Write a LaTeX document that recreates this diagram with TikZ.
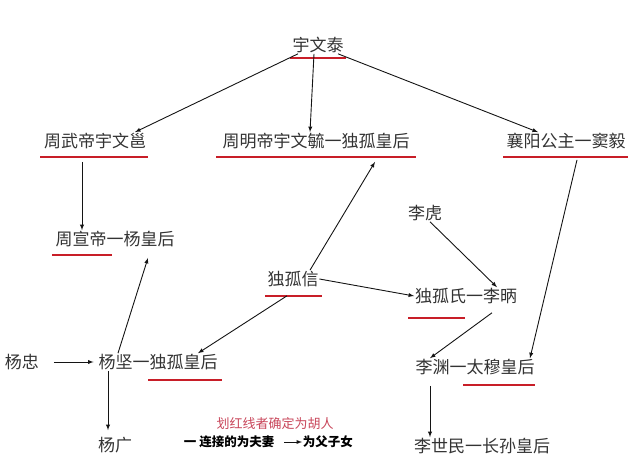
\documentclass[tikz,border=0pt]{standalone}
\usepackage{fontspec}
\setmainfont{Noto Sans CJK SC}
\usepackage{color}
\usetikzlibrary{arrows}

\begin{document}
\begin{tikzpicture}[x=1pt,y=1pt,yscale=-1,xscale=1,
  person/.style={inner sep=0.75pt,font=\fontsize{17}{19}\selectfont,text=black!80},
  link/.style={-latex,line width=0.9pt,color={rgb,255:red,20;green,20;blue,20}},
  redline/.style={line width=2.2pt,color={rgb,255:red,200;green,30;blue,40}}]
\useasboundingbox (0,0) rectangle (640,455);
\node[person] (yuwentai) at (318,45) {宇文泰};
\node[person] (wudi) at (95,141) {周武帝宇文邕};
\node[person] (mingdi) at (316,141) {周明帝宇文毓一独孤皇后};
\node[person] (xiangyang) at (566,141) {襄阳公主一窦毅};
\node[person] (xuandi) at (115,239) {周宣帝一杨皇后};
\node[person] (lihu) at (425,213) {李虎};
\node[person] (duguxin) at (293,279) {独孤信};
\node[person] (duguli) at (466,296) {独孤氏一李昞};
\node[person] (yangzhong) at (22,362) {杨忠};
\node[person] (yangjian) at (158,362) {杨坚一独孤皇后};
\node[person] (liyuan) at (475,367) {李渊一太穆皇后};
\node[person] (yangguang) at (115,445) {杨广};
\node[person] (lishimin) at (482,446) {李世民一长孙皇后};
% legend
\node[inner sep=0.75pt,font=\fontsize{13}{15}\selectfont,text={rgb,255:red,200;green,70;blue,90}] (note) at (275,424) {划红线者确定为胡人};
\node[inner sep=0.75pt,font=\fontsize{12.5}{14}\selectfont\bfseries,anchor=west] (couple) at (183,442) {一 连接的为夫妻};
\node[inner sep=0.75pt,font=\fontsize{12.5}{14}\selectfont\bfseries,anchor=west] (child) at (302,442) {为父子女};
\coordinate (legtail) at (284,442);
\draw[link] (legtail) -- (child.west);

% underlines
\draw[redline] (290,58) -- (346,58);
\draw[redline] (40,157) -- (148,157);
\draw[redline] (216,157) -- (416,157);
\draw[redline] (503,157) -- (628,157);
\draw[redline] (52,255) -- (112,255);
\draw[redline] (265,296) -- (322,296);
\draw[redline] (408,318) -- (465,318);
\draw[redline] (148,380) -- (222,380);
\draw[redline] (463,385) -- (535,385);

% arrows
\draw[link] ([xshift=-20pt]yuwentai.south) -- ([xshift=40pt]wudi.north);
\draw[link] ([xshift=-4pt]yuwentai.south) -- ([xshift=-6pt]mingdi.north);
\draw[link] ([xshift=20pt]yuwentai.south) -- ([xshift=-28pt]xiangyang.north);
\draw[link] ([xshift=-13pt,yshift=12pt]wudi.south) -- ([xshift=-33pt]xuandi.north);
\draw[link] ([xshift=-40pt]yangjian.north) -- ([xshift=33pt,yshift=10pt]xuandi.south);
\draw[link] ([xshift=17pt]duguxin.north) -- ([xshift=59pt,yshift=12pt]mingdi.south);
\draw[link] (duguxin.east) -- (duguli.west);
\draw[link] ([xshift=-6pt,yshift=8pt]duguxin.south) -- ([xshift=40pt]yangjian.north);
\draw[link] ([xshift=5pt]lihu.south) -- ([xshift=31pt]duguli.north);
\draw[link] ([xshift=26pt,yshift=8pt]duguli.south) -- ([xshift=-45pt]liyuan.north);
\draw[link] ([xshift=11pt,yshift=10pt]xiangyang.south) -- ([xshift=55pt]liyuan.north);
\draw[link] ([xshift=14pt]yangzhong.east) -- ([xshift=-4pt]yangjian.west);
\draw[link] ([xshift=-50pt]yangjian.south) -- ([xshift=-50pt,yshift=-6pt]yangguang.north -| yangjian.south);
\draw[link] ([xshift=-45pt,yshift=10pt]liyuan.south) -- ([xshift=-52pt]lishimin.north);
\end{tikzpicture}
\end{document}
